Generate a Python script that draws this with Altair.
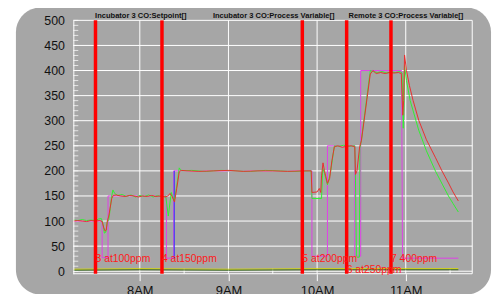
import altair as alt
import pandas as pd

# ---------------- data (time = minutes since midnight) ----------------
sp_t = [435, 454.5, 454.5, 458.5, 458.5, 498, 498, 503, 503, 596.5, 596.5, 607, 607,
        625.5, 625.5, 629.5, 629.5, 657.2, 657.8, 695.6]
sp_v = [100, 100, 27, 27, 150, 150, 26, 26, 200, 200, 30, 30, 250,
        250, 30, 30, 400, 400, 26, 26]

blue_t = [503.3, 503.3]
blue_v = [26, 200]

red_t = [435, 438, 441, 444, 447, 450, 453, 454.5, 455.5, 456.5, 457.3, 458, 459, 460, 461, 462,
         464, 467, 470, 473, 476, 479, 482, 485, 488, 491, 494, 497, 499, 500.5, 502, 503.5, 505,
         506.7, 508, 512, 520, 530, 540, 550, 560, 570, 580, 590, 596,
         596.5, 600, 601.5, 602.5, 603, 604, 605, 607, 608.5, 610, 611.7, 614, 617, 620, 623,
         625.5, 626, 627, 628.8, 630, 636, 637.8, 640, 643, 646, 649, 652, 655, 657,
         658, 658.6, 659.2, 660.5, 662.5, 665, 668.8, 674, 680.2, 684.5, 688.9, 692, 695.6]
red_v = [100, 101, 100, 99, 101, 100, 101, 99, 88, 80, 82, 100, 110, 128, 145, 151,
         152, 150, 149, 151, 150, 148, 150, 149, 151, 149, 150, 148, 150, 155, 148, 138, 165,
         198, 201, 200, 199, 200, 201, 199, 200, 200, 199, 200, 200,
         157, 158, 165, 157, 190, 216, 200, 175, 185, 220, 248, 250, 247, 249, 250,
         248, 193, 200, 248, 260, 393, 400, 394, 396, 394, 396, 395, 396, 394,
         311, 340, 431, 400, 370, 340, 301, 262, 226, 200, 176, 158, 140]

grn_t = [435, 438, 441, 444, 447, 450, 452, 454, 455, 456, 457, 458, 459, 460, 461, 461.8,
         463, 465, 468, 471, 474, 477, 480, 483, 486, 489, 492, 495, 497.5, 499.3, 501.3, 503.3,
         505, 506.7, 508, 515, 525, 535, 545, 555, 565, 575, 585, 596,
         596.5, 603, 603.8, 605, 607, 609, 611.7, 614, 618, 622, 625.5, 626, 626.6, 628.6, 629,
         630, 636, 638, 641, 644, 647, 650, 653, 656, 657.5,
         658.3, 658.8, 659.2, 660.5, 663, 668.8, 674, 680.2, 685, 688.9, 692, 695.6]
grn_v = [102, 101, 103, 101, 102, 101, 104, 105, 95, 76, 78, 98, 103, 125, 150, 162,
         155, 151, 153, 149, 152, 148, 151, 149, 152, 148, 151, 148, 150, 110, 157, 140,
         170, 206, 200, 201, 199, 201, 200, 199, 201, 200, 199, 200,
         145, 145, 205, 195, 172, 195, 250, 249, 251, 249, 250, 180, 28, 28, 245,
         262, 400, 398, 396, 398, 395, 397, 396, 398, 395,
         285, 330, 410, 380, 340, 281, 240, 199, 172, 150, 135, 118]

yel_t = [435, 480, 540, 600, 660, 695.6]
yel_v = [4, 5, 4, 5, 5, 5]
dkg_t = [435, 480, 540, 600, 660, 695.6]
dkg_v = [2, 3, 2, 3, 3, 3]

event_t = [450, 495, 590, 620, 650]
event_label = ["3 at100ppm", "4 at150ppm", "5 at200ppm", "6 at250ppm", "7 400ppm"]

legend_labels = ["Incubator 3 CO:Setpoint[]", "Incubator 3 CO:Process Variable[]",
                 "Remote 3 CO:Process Variable[]"]

hour_ticks = [480, 540, 600, 660]
half_ticks = [450, 510, 570, 630, 690]
y_major = list(range(0, 501, 50))
y_minor = list(range(0, 501, 10))

# ---------------- build tables ----------------
def series(name, ts, vs):
    return pd.DataFrame({"t": ts, "v": vs, "s": name, "i": range(len(ts))})

lines = pd.concat([
    series("yel", yel_t, yel_v),
    series("dkg", dkg_t, dkg_v),
    series("sp", sp_t, sp_v),
    series("blue", blue_t, blue_v),
    series("grn", grn_t, grn_v),
    series("red", red_t, red_v),
], ignore_index=True)

events = pd.DataFrame({"t": event_t, "label": event_label})

W, H = 403, 256
XD = [435, 705]
YD = [-5, 500]
GRAY = "#a6a6a6"
FONT = "Liberation Sans"

xs = alt.Scale(domain=XD, nice=False, zero=False)
ys = alt.Scale(domain=YD, nice=False, zero=False)

x_axis = alt.Axis(
    values=hour_ticks, labelExpr="floor(datum.value/60) + 'AM'", grid=False,
    domain=False, tickColor="white", tickSize=7, labelPadding=4,
    labelFont=FONT, labelFontSize=13, labelColor="#111111", title=None, zindex=1)
y_axis = alt.Axis(
    values=y_major, grid=False, domainColor="white", domainWidth=1, ticks=False,
    labelOverlap=False, labelPadding=9, labelFont=FONT, labelFontSize=12.5,
    labelColor="#111111", title=None, zindex=1)


def X(field="t:Q"):
    return alt.X(field, scale=xs, axis=x_axis)


def Y(field="v:Q"):
    return alt.Y(field, scale=ys, axis=y_axis)


bg = alt.Chart(pd.DataFrame({"a": [0]})).mark_rect(
    color=GRAY, cornerRadius=25
).encode(x=alt.value(-58), x2=alt.value(422), y=alt.value(-13), y2=alt.value(277))

hgrid = alt.Chart(pd.DataFrame({"v": y_major})).mark_rule(color="white", strokeWidth=1).encode(
    y=Y())
vgrid = alt.Chart(pd.DataFrame({"t": hour_ticks})).mark_rule(color="white", strokeWidth=1).encode(
    x=X())
rborder = alt.Chart(pd.DataFrame({"a": [0]})).mark_rule(color="white").encode(
    x=alt.value(W), y=alt.value(0), y2=alt.value(H))
bborder = alt.Chart(pd.DataFrame({"a": [0]})).mark_rule(color="white").encode(
    x=alt.value(0), x2=alt.value(W), y=alt.value(H))

yminor = alt.Chart(pd.DataFrame({"v": y_minor})).mark_tick(
    color="white", orient="horizontal", size=5, thickness=1, xOffset=2.5
).encode(y=Y(), x=alt.value(0))

xminor = alt.Chart(pd.DataFrame({"t": half_ticks})).mark_rule(color="white").encode(
    x=X(), y=alt.value(H - 5), y2=alt.value(H))

data_lines = alt.Chart(lines).mark_line(strokeWidth=1, interpolate="linear").encode(
    x=X(),
    y=Y(),
    color=alt.Color("s:N", legend=None, scale=alt.Scale(
        domain=["yel", "dkg", "sp", "blue", "grn", "red"],
        range=["#d8d800", "#3c6a20", "#e040e8", "#3030ff", "#30f030", "#e83030"])),
    order=alt.Order("i:Q"),
    detail="s:N",
)

event_rules = alt.Chart(events).mark_rule(color="#ff0000", strokeWidth=3.5).encode(x=X())

ev_text_a = alt.Chart(events).transform_filter(alt.datum.label != "6 at250ppm").mark_text(
    color="#ff1a1a", font=FONT, fontSize=10.5, align="left", baseline="alphabetic", dx=0
).encode(x=X(), y=alt.value(244), text="label:N")
ev_text_b = alt.Chart(events).transform_filter(alt.datum.label == "6 at250ppm").mark_text(
    color="#ff1a1a", font=FONT, fontSize=10.5, align="left", baseline="alphabetic", dx=0
).encode(x=X(), y=alt.value(255), text="label:N")

leg_x = [22, 141, 278]
legends = [
    alt.Chart(pd.DataFrame({"label": [lab]})).mark_text(
        font=FONT, fontSize=7.6, fontWeight="bold", color="#111111",
        align="left", baseline="alphabetic"
    ).encode(x=alt.value(px), y=alt.value(-2.5), text="label:N")
    for lab, px in zip(legend_labels, leg_x)
]

chart = alt.layer(
    bg, hgrid, vgrid, rborder, bborder, yminor, xminor, data_lines,
    event_rules, ev_text_a, ev_text_b, *legends
).properties(
    width=W, height=H,
    autosize=alt.AutoSizeParams(type="none"),
    padding={"left": 66, "top": 11, "right": 22, "bottom": 20},
    background="white",
).configure_view(stroke=None)

chart.save("out.html", embed_options={"renderer": "svg", "actions": False})
